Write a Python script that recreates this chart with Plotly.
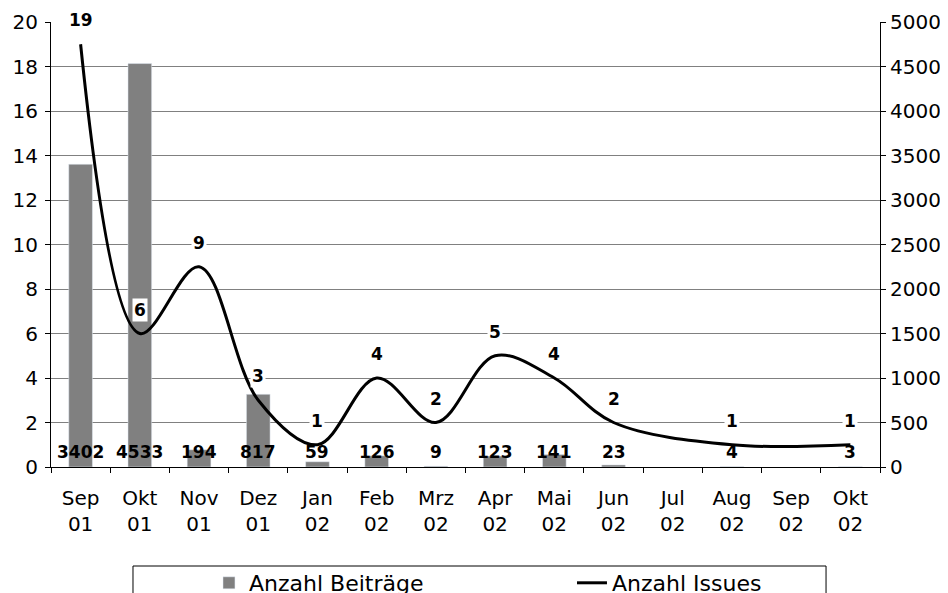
import plotly.graph_objects as go

# Monatsdaten
months = ['Sep<br>01', 'Okt<br>01', 'Nov<br>01', 'Dez<br>01', 'Jan<br>02', 'Feb<br>02', 'Mrz<br>02',
          'Apr<br>02', 'Mai<br>02', 'Jun<br>02', 'Jul<br>02', 'Aug<br>02', 'Sep<br>02', 'Okt<br>02']
beitraege = [3402, 4533, 194, 817, 59, 126, 9, 123, 141, 23, None, 4, None, 3]
issues = [19, 6, 9, 3, 1, 4, 2, 5, 4, 2, None, 1, None, 1]

FONT = 'DejaVu Sans'

fig = go.Figure()

# Beitraege as bars (right axis)
fig.add_trace(go.Bar(
    x=months, y=beitraege, name='Anzahl Beiträge',
    marker_color='#808080', yaxis='y', width=0.4,
))

# Issues as smoothed line (left axis), drawn above bars
fig.add_trace(go.Scatter(
    x=months, y=issues, name='Anzahl Issues', mode='lines',
    line=dict(color='black', width=3, shape='spline', smoothing=1.0),
    connectgaps=True, yaxis='y2',
))

annotations = []
# labels at the base of the bars
for m, v in zip(months, beitraege):
    if v is None:
        continue
    annotations.append(dict(x=m, y=0, xref='x', yref='y', yshift=15, text=str(v),
                            showarrow=False, font=dict(family=FONT, size=17, color='black', weight='bold')))
# labels above line points
for m, v in zip(months, issues):
    if v is None:
        continue
    annotations.append(dict(x=m, y=v, xref='x', yref='y2', yshift=24, text=str(v),
                            showarrow=False, bgcolor='white', borderpad=1,
                            font=dict(family=FONT, size=17, color='black', weight='bold')))

# legend frame
legend_box = dict(type='rect', xref='paper', yref='paper',
                  x0=0.0989, x1=0.9349, y0=-0.2225, y1=-0.32,
                  line=dict(color='black', width=1), fillcolor='white', layer='below')

fig.update_layout(
    width=940, height=585,
    margin=dict(l=43, r=68, t=14, b=126, autoexpand=False),
    paper_bgcolor='white', plot_bgcolor='white',
    font=dict(family=FONT, size=20, color='black'),
    bargap=0.6,
    showlegend=True,
    legend=dict(orientation='h', xref='container', yref='container',
                x=0.2138, xanchor='left', y=0.053, yanchor='top',
                entrywidth=318, entrywidthmode='pixels',
                font=dict(family=FONT, size=22, color='black'),
                bgcolor='rgba(0,0,0,0)', borderwidth=0, traceorder='normal'),
    xaxis=dict(type='category', tickson='boundaries', ticks='outside', ticklen=5,
               tickcolor='black', showline=True, linecolor='black', linewidth=1,
               showgrid=False, tickfont=dict(size=20), ticklabelstandoff=13),
    yaxis=dict(side='right', range=[0, 5000], dtick=500, ticks='outside', ticklen=5,
               tickcolor='black', showline=True, linecolor='black', linewidth=1,
               showgrid=True, gridcolor='#808080', gridwidth=1, zeroline=False,
               tickfont=dict(size=20)),
    yaxis2=dict(side='left', overlaying='y', range=[0, 20], dtick=2, ticks='outside', ticklen=5,
                tickcolor='black', showline=True, linecolor='black', linewidth=1,
                showgrid=False, zeroline=False, tickfont=dict(size=20), ticklabelstandoff=3),
    annotations=annotations,
    shapes=[legend_box],
)

fig.write_html('out.html')
